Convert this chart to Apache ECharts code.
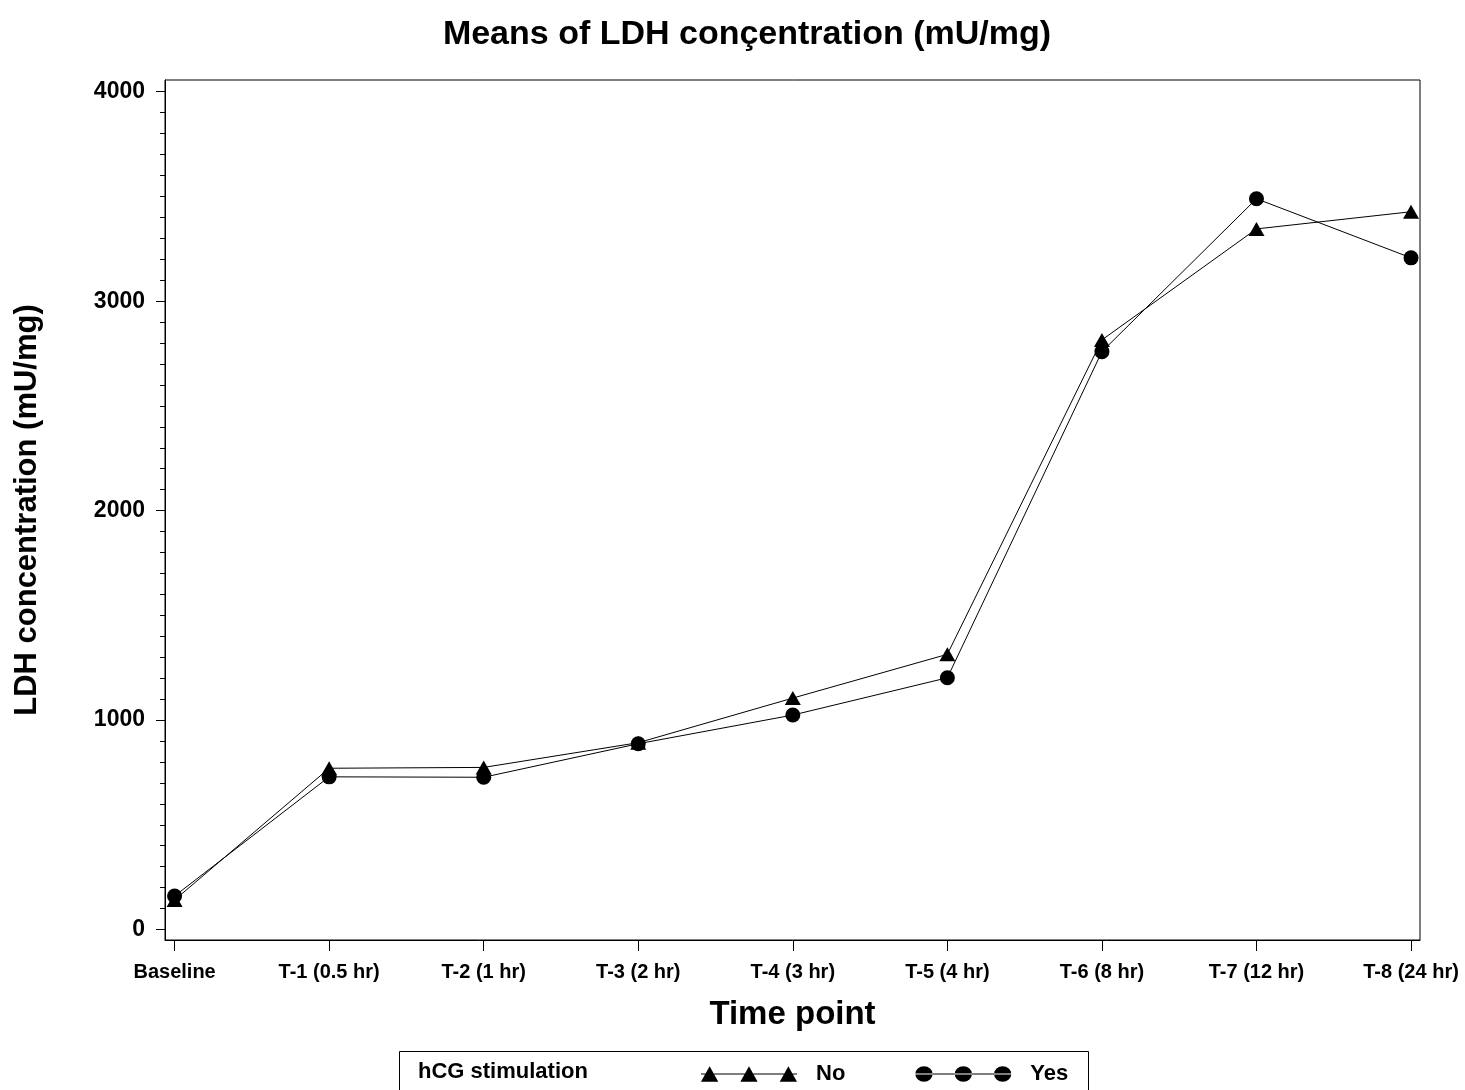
<!DOCTYPE html>
<html>
<head>
<meta charset="utf-8">
<script src="https://cdn.jsdelivr.net/npm/echarts@6/dist/echarts.min.js"></script>
<style>
html,body{margin:0;padding:0;background:#fff;}
#chart{width:1465px;height:1090px;}
</style>
</head>
<body>
<div id="chart"></div>
<script>
var categories = ['Baseline','T-1 (0.5 hr)','T-2 (1 hr)','T-3 (2 hr)','T-4 (3 hr)','T-5 (4 hr)','T-6 (8 hr)','T-7 (12 hr)','T-8 (24 hr)'];
var noValues  = [141, 770, 774, 892, 1105, 1314, 2815, 3345, 3427];
var yesValues = [160, 729, 727, 887, 1024, 1202, 2759, 3489, 3207];
var yMajorTicks = [0, 1000, 2000, 3000, 4000];
var yMinorTicks = [];
for (var v = 100; v < 4000; v += 100) { if (v % 1000 !== 0) yMinorTicks.push(v); }
var xPositions = categories.map(function (c, i) { return i; });

var FONT = '"Liberation Sans", Arial, sans-serif';
var tri = 'path://M0 7.4 L100 7.4 L100 8.6 L0 8.6 Z M0 16 L9 0 L18 16 Z M41 16 L50 0 L59 16 Z M82 16 L91 0 L100 16 Z';
var cir = 'path://M0 7.4 L100 7.4 L100 8.6 L0 8.6 Z M0 8 A9 8 0 1 0 18 8 A9 8 0 1 0 0 8 Z M41 8 A9 8 0 1 0 59 8 A9 8 0 1 0 41 8 Z M82 8 A9 8 0 1 0 100 8 A9 8 0 1 0 82 8 Z';

function pairs(vals) { return vals.map(function (v, i) { return [xPositions[i], v]; }); }

var chart = echarts.init(document.getElementById('chart'), null, {renderer: 'canvas'});
chart.setOption({
  animation: false,
  backgroundColor: '#fff',
  title: {
    text: 'Means of LDH conçentration (mU/mg)',
    left: 742, top: 13, textAlign: 'center',
    textStyle: {fontFamily: FONT, fontSize: 34, fontWeight: 'bold', color: '#000'}
  },
  grid: {left: 165, right: 45, top: 80, bottom: 150, show: true, borderColor: '#000', borderWidth: 1, containLabel: false},
  xAxis: {
    type: 'value', min: -0.062, max: 8.058,
    name: 'Time point', nameLocation: 'middle', nameGap: 58,
    nameTextStyle: {fontFamily: FONT, fontSize: 33, fontWeight: 'bold', color: '#000'},
    axisLine: {show: true, onZero: false, lineStyle: {color: '#000', width: 1}},
    axisTick: {show: true, length: 11, customValues: xPositions, lineStyle: {color: '#000'}},
    splitLine: {show: false},
    axisLabel: {
      customValues: xPositions, margin: 22, color: '#000',
      fontFamily: FONT, fontSize: 20, fontWeight: 'bold',
      formatter: function (v) { return categories[Math.round(v)]; }
    }
  },
  yAxis: [{
    type: 'value', min: -50, max: 4056,
    name: 'LDH concentration (mU/mg)', nameLocation: 'middle', nameGap: 122, nameRotate: 90,
    nameTextStyle: {fontFamily: FONT, fontSize: 31, fontWeight: 'bold', color: '#000'},
    axisLine: {show: true, onZero: false, lineStyle: {color: '#000', width: 1}},
    axisTick: {show: true, length: 9, customValues: yMajorTicks, lineStyle: {color: '#000'}},
    splitLine: {show: false},
    axisLabel: {customValues: yMajorTicks, margin: 20, color: '#000', fontFamily: FONT, fontSize: 23, fontWeight: 'bold',
      formatter: function (v) { return String(v); }}
  }, {
    type: 'value', min: -50, max: 4056, position: 'left',
    axisLine: {show: false, onZero: false},
    axisTick: {show: true, length: 5, customValues: yMinorTicks, lineStyle: {color: '#000'}},
    axisLabel: {show: false},
    splitLine: {show: false}
  }],
  legend: {
    left: 696, top: 1058, itemWidth: 96, itemHeight: 18, itemGap: 70,
    selectedMode: false,
    textStyle: {fontFamily: FONT, fontSize: 22, fontWeight: 'bold', color: '#000', padding: [0, 0, 0, 14]},
    data: [{name: 'No', icon: tri}, {name: 'Yes', icon: cir}]
  },
  graphic: [
    {type: 'rect', left: 397, top: 1049, shape: {width: 689, height: 50}, style: {fill: 'none', stroke: '#000', lineWidth: 1}},
    {type: 'text', left: 418, top: 1061, style: {text: 'hCG stimulation', fontFamily: FONT, fontSize: 22, fontWeight: 'bold', fill: '#000'}}
  ],
  series: [{
    name: 'No', type: 'line', data: pairs(noValues),
    symbol: 'triangle', symbolSize: [16, 14],
    itemStyle: {color: '#000'}, lineStyle: {color: '#000', width: 1}
  }, {
    name: 'Yes', type: 'line', data: pairs(yesValues),
    symbol: 'circle', symbolSize: 15,
    itemStyle: {color: '#000'}, lineStyle: {color: '#000', width: 1}
  }]
});
</script>
</body>
</html>
